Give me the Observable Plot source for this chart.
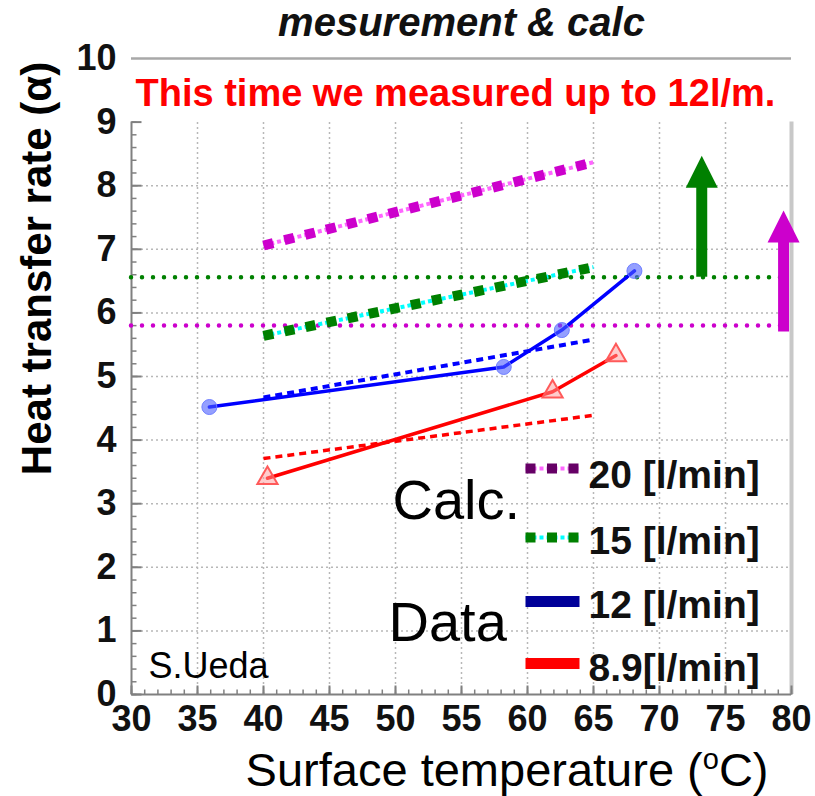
<!DOCTYPE html>
<html>
<head>
<meta charset="utf-8">
<script src="https://cdn.jsdelivr.net/npm/d3@7"></script>
<script src="https://cdn.jsdelivr.net/npm/@observablehq/plot@0.6"></script>
<style>
  html, body { margin: 0; padding: 0; background: #fff; }
</style>
</head>
<body>
<div id="chart"></div>
<script>
// ---- data ----
const calcTemps = [40, 65];
const calc20 = [7.06, 8.37];
const calc15 = [5.64, 6.72];
const calc12 = [4.67, 5.58];
const calc89 = [3.71, 4.39];

const data12Temps = [35.9, 58.2, 62.6, 68.1];
const data12 = [4.52, 5.15, 5.73, 6.66];
const data89Temps = [40.3, 61.9, 66.7];
const data89 = [3.40, 4.76, 5.33];

const targetLevels = [6.56, 5.80];          // 15 l/min (green), 20 l/min (magenta)
const targetColors = ["#008000", "#cc00cc"];
const targetSpan = [30, 79.2];
const arrowTemps = [73.2, 79.4];
const arrowBases = [6.56, 5.70];
const arrowTips = [8.47, 7.61];

const xTicks = [30, 35, 40, 45, 50, 55, 60, 65, 70, 75, 80];
const yTicks = [0, 1, 2, 3, 4, 5, 6, 7, 8, 9, 10];
const legendLabels = ["20 [l/min]", "15 [l/min]", "12 [l/min]", "8.9[l/min]"];
const groupLabels = ["Calc.", "Data"];
const titleText = "mesurement & calc";
const noteText = "This time we measured up to 12l/m.";
const authorText = "S.Ueda";
const xTitle = "Surface temperature (oC)";
const yTitle = "Heat transfer rate (\u03b1)";

// ---- helpers ----
const pts = (xs, ys) => xs.map((x, i) => ({x, y: ys[i]}));
const lineShape = {draw(ctx, l) { ctx.moveTo(0, 0); ctx.lineTo(0, -l); }};
const headShape = {draw(ctx, l) { ctx.moveTo(-16, 0); ctx.lineTo(16, 0); ctx.lineTo(0, -l); ctx.closePath(); }};

const gridY = yTicks.filter(d => d > 0 && d < 9);
const gridX = xTicks.filter(d => d > 30 && d < 80);
const minorY = d3.range(0, 9.001, 0.2).map(d => +d.toFixed(1));
const minorX = d3.range(30, 80.001, 1);
const majorY = yTicks.filter(d => d <= 9);

const font = "'Liberation Sans', Arial, Helvetica, sans-serif";
const arrows = arrowTemps.map((x, i) => ({x, base: arrowBases[i], tip: arrowTips[i], c: targetColors[i]}));
const targets = targetLevels.map((y, i) => ({y, c: targetColors[i]}));
const butt = {strokeLinecap: "butt", strokeLinejoin: "miter"};

const legendRows = [
  {dy: 410, under: "#ff66ff", main: "#660066", dash: "10,11.5", w: 10},
  {dy: 479, under: "#00ffff", main: "#008000", dash: "10,11.5", w: 10},
  {dy: 543, under: null, main: "#000099", dash: null, w: 11},
  {dy: 605, under: null, main: "#ff0000", dash: null, w: 11}
];
const legendTextDy = [429, 495, 559, 622];

const legendMarks = legendRows.flatMap((r, i) => {
  const m = [];
  if (r.under) m.push(Plot.vector([0], {frameAnchor: "top-left", dx: 394, dy: r.dy, rotate: 90, length: 54, anchor: "start",
    shape: lineShape, stroke: r.under, strokeWidth: 4, strokeDasharray: "4,3", fill: "none", ...butt}));
  m.push(Plot.vector([0], {frameAnchor: "top-left", dx: 394, dy: r.dy, rotate: 90, length: 54, anchor: "start",
    shape: lineShape, stroke: r.main, strokeWidth: r.w, strokeDasharray: r.dash ?? undefined, fill: "none", ...butt}));
  m.push(Plot.text([legendLabels[i]], {frameAnchor: "top-left", dx: 457, dy: legendTextDy[i], textAnchor: "start",
    lineAnchor: "bottom", fontSize: 39, fontWeight: "bold", fill: "#111"}));
  return m;
});

const plot = Plot.plot({
  width: 815,
  height: 796,
  marginLeft: 131,
  marginRight: 24,
  marginTop: 58,
  marginBottom: 102,
  x: {domain: [30, 80], axis: null},
  y: {domain: [0, 10], axis: null},
  style: {fontFamily: font, background: "#fff", overflow: "visible"},
  marks: [
    // grid
    Plot.ruleY(gridY, {y: d => d, x1: 30, x2: 80, stroke: "#b8b8b8", strokeWidth: 1.5, strokeDasharray: "2,3"}),
    Plot.ruleX(gridX, {x: d => d, y1: 0, y2: 9, stroke: "#b8b8b8", strokeWidth: 1.5, strokeDasharray: "2,3"}),
    // frame
    Plot.ruleX([80], {x: d => d, y1: 0, y2: 9, stroke: "#c8c8c8", strokeWidth: 4}),
    Plot.ruleY([10], {y: d => d, x1: 30, x2: 80, stroke: "#a8a8a8", strokeWidth: 2.5}),
    Plot.ruleX([30], {x: d => d, y1: 0, y2: 9, stroke: "#808080", strokeWidth: 2}),
    Plot.ruleY([0], {y: d => d, x1: 30, x2: 80, stroke: "#808080", strokeWidth: 2}),
    // ticks (inward)
    Plot.vector(minorY, {x: 30, y: d => d, rotate: 90, length: 5, anchor: "start", shape: lineShape, stroke: "#808080", strokeWidth: 1.5, fill: "none", ...butt}),
    Plot.vector(majorY, {x: 30, y: d => d, rotate: 90, length: 10, anchor: "start", shape: lineShape, stroke: "#808080", strokeWidth: 2, fill: "none", ...butt}),
    Plot.vector(minorX, {x: d => d, y: 0, rotate: 0, length: 5, anchor: "start", shape: lineShape, stroke: "#808080", strokeWidth: 1.5, fill: "none", ...butt}),
    Plot.vector(xTicks, {x: d => d, y: 0, rotate: 0, length: 9, anchor: "start", shape: lineShape, stroke: "#808080", strokeWidth: 2, fill: "none", ...butt}),
    // tick labels
    Plot.text(yTicks, {y: d => d, frameAnchor: "left", dx: -15, textAnchor: "end", lineAnchor: "middle", fontSize: 36, fontWeight: "bold", fill: "#111", text: d => String(d)}),
    Plot.text(xTicks, {x: d => d, frameAnchor: "bottom", dy: 36, lineAnchor: "bottom", fontSize: 36, fontWeight: "bold", fill: "#111", text: d => String(d)}),
    // target levels
    Plot.ruleY(targets, {y: "y", x1: targetSpan[0], x2: targetSpan[1], stroke: "c", strokeWidth: 4.5, strokeDasharray: "0,11", strokeLinecap: "round"}),
    // calc lines
    Plot.line(pts(calcTemps, calc20), {x: "x", y: "y", stroke: "#ff66ff", strokeWidth: 4, strokeDasharray: "4,3", ...butt}),
    Plot.line(pts(calcTemps, calc20), {x: "x", y: "y", stroke: "#cc00cc", strokeWidth: 10, strokeDasharray: "10,11.5", ...butt}),
    Plot.line(pts(calcTemps, calc15), {x: "x", y: "y", stroke: "#00ffff", strokeWidth: 4, strokeDasharray: "4,3", ...butt}),
    Plot.line(pts(calcTemps, calc15), {x: "x", y: "y", stroke: "#008000", strokeWidth: 10, strokeDasharray: "10,11.5", ...butt}),
    Plot.line(pts(calcTemps, calc12), {x: "x", y: "y", stroke: "#0000ff", strokeWidth: 4, strokeDasharray: "7,5", ...butt}),
    Plot.line(pts(calcTemps, calc89), {x: "x", y: "y", stroke: "#ff0000", strokeWidth: 3.5, strokeDasharray: "7,5", ...butt}),
    // measured data
    Plot.line(pts(data12Temps, data12), {x: "x", y: "y", stroke: "#0000ff", strokeWidth: 3.5}),
    Plot.dot(pts(data12Temps, data12), {x: "x", y: "y", r: 7.5, fill: "#4d5fff", fillOpacity: 0.6, stroke: "#6f7fff", strokeWidth: 1}),
    Plot.line(pts(data89Temps, data89), {x: "x", y: "y", stroke: "#ff0000", strokeWidth: 3.5}),
    Plot.dot(pts(data89Temps, data89), {x: "x", y: "y", symbol: "triangle", r: 7.5, fill: "#ff9a9a", fillOpacity: 0.5, stroke: "#ff5a5a", strokeWidth: 2}),
    // arrows
    Plot.ruleX(arrows, {x: "x", y1: "base", y2: d => d.tip - 0.3, stroke: "c", strokeWidth: 11, ...butt}),
    Plot.vector(arrows, {x: "x", y: "tip", rotate: 0, length: 32, anchor: "end", shape: headShape, fill: "c", stroke: "none"}),
    // texts
    Plot.text([titleText], {frameAnchor: "top", dy: -23, lineAnchor: "bottom", fontSize: 40, fontWeight: "bold", fontStyle: "italic", fill: "#111"}),
    Plot.text([noteText], {frameAnchor: "top-left", dx: 4, dy: 47, textAnchor: "start", lineAnchor: "bottom", fontSize: 38, fontWeight: "bold", fill: "#ff0000"}),
    Plot.text([authorText], {frameAnchor: "bottom-left", dx: 17, dy: -17, textAnchor: "start", lineAnchor: "bottom", fontSize: 36, fill: "#000"}),
    Plot.text([groupLabels[0]], {frameAnchor: "top-left", dx: 261, dy: 460, textAnchor: "start", lineAnchor: "bottom", fontSize: 56, fill: "#000"}),
    Plot.text([groupLabels[1]], {frameAnchor: "top-left", dx: 257, dy: 582, textAnchor: "start", lineAnchor: "bottom", fontSize: 56, fill: "#000"}),
    ...legendMarks,
    Plot.text([xTitle], {frameAnchor: "bottom-right", dx: -23, dy: 91, textAnchor: "end", lineAnchor: "bottom", fontSize: 47, fill: "#000"}),
    Plot.text([yTitle], {frameAnchor: "left", dx: -94, dy: -108, rotate: -90, textAnchor: "middle", lineAnchor: "middle", fontSize: 42, fontWeight: "bold", fill: "#000"})
  ]
});

// superscript "o" in the x-axis title
d3.select(plot).selectAll("text").filter(function() { return this.textContent === xTitle; })
  .each(function() {
    const t = d3.select(this);
    t.text(null);
    t.append("tspan").text("Surface temperature (");
    t.append("tspan").attr("dy", "-17").attr("font-size", 29).text("o");
    t.append("tspan").attr("dy", "17").text("C)");
  });

document.getElementById("chart").appendChild(plot);
</script>
</body>
</html>
